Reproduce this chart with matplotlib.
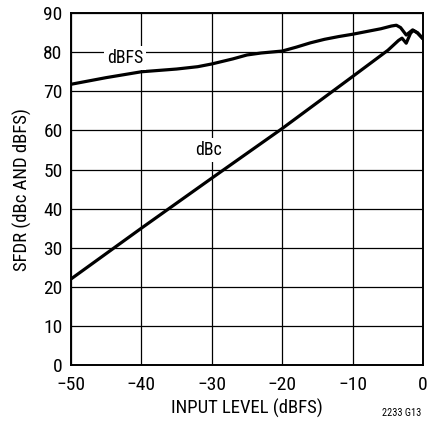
import matplotlib
matplotlib.use('Agg')
import matplotlib.pyplot as plt

plt.rcParams['font.family'] = ['Roboto Condensed', 'Liberation Sans', 'DejaVu Sans']

dbfs_x = [-50, -45, -40, -35, -32, -30, -27, -25, -23, -20, -18, -16, -14, -12,
          -10, -8, -6, -4.5, -3.8, -3.2, -2.4, -1.5, -0.8, 0]
dbfs_y = [71.8, 73.5, 75.0, 75.7, 76.3, 77.0, 78.3, 79.3, 79.8, 80.3, 81.3, 82.4,
          83.3, 84.0, 84.6, 85.3, 86.0, 86.7, 86.9, 86.3, 84.4, 85.7, 84.9, 83.4]

dbc_x = [-50, -40, -30, -20, -10, -5, -3.5, -3.0, -2.4, -1.8, -1.4, -0.8, 0]
dbc_y = [22.0, 35.0, 47.8, 60.5, 73.8, 80.5, 83.0, 83.6, 82.3, 84.8, 85.6, 85.0, 83.4]

x_ticks = [-50, -40, -30, -20, -10, 0]
y_ticks = [0, 10, 20, 30, 40, 50, 60, 70, 80, 90]

fig = plt.figure(figsize=(4.30, 4.23), dpi=100)
ax = fig.add_axes([0.165, 0.137, 0.819, 0.832])

ax.plot(dbfs_x, dbfs_y, color='black', linewidth=2.3, zorder=3)
ax.plot(dbc_x, dbc_y, color='black', linewidth=2.3, zorder=3)

ax.set_xlim(-50, 0)
ax.set_ylim(0, 90)
ax.set_xticks(x_ticks)
ax.set_yticks(y_ticks)
ax.grid(True, color='black', linewidth=0.9)
ax.tick_params(length=0, labelsize=14)
ax.tick_params(axis='x', pad=8)
ax.tick_params(axis='y', pad=6)
for s in ax.spines.values():
    s.set_linewidth(1.4)

ax.text(-42.3, 78.5, 'dBFS', fontsize=12.8, ha='center', va='center',
        bbox=dict(facecolor='white', edgecolor='none', pad=2), zorder=4)
ax.text(-30.5, 55, 'dBc', fontsize=12.8, ha='center', va='center',
        bbox=dict(facecolor='white', edgecolor='none', pad=2), zorder=4)

ax.set_xlabel('INPUT LEVEL (dBFS)', fontsize=13.5, labelpad=3)
ax.set_ylabel('SFDR (dBc AND dBFS)', fontsize=13.5, labelpad=8)
fig.text(0.979, 0.024, '2233 G13', fontsize=7.5, ha='right', va='center')

fig.savefig('out.png', dpi=100)
